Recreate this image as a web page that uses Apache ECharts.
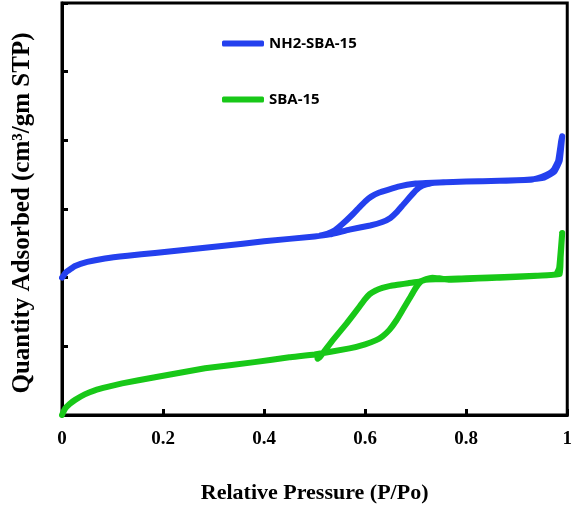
<!DOCTYPE html>
<html>
<head>
<meta charset="utf-8">
<script src="https://cdn.jsdelivr.net/npm/echarts@6/dist/echarts.min.js"></script>
<style>html,body{margin:0;padding:0;background:#fff}#c{width:575px;height:509px}</style>
</head>
<body>
<div id="c"></div>
<script>
const seriesNames = ['NH2-SBA-15', 'SBA-15'];
const xTicks = [0, 0.2, 0.4, 0.6, 0.8, 1];
// NH2-SBA-15: adsorption branch then desorption branch
const nh2Ads = [[0,2.0],[0.008,2.08],[0.026,2.17],[0.05,2.23],[0.085,2.28],[0.13,2.32],[0.184,2.36],[0.25,2.41],[0.316,2.46],[0.4,2.53],[0.5,2.6],[0.53,2.63],[0.569,2.7],[0.61,2.76],[0.634,2.81],[0.65,2.87],[0.662,2.95],[0.675,3.06],[0.688,3.17],[0.7,3.27],[0.713,3.34],[0.733,3.38],[0.8,3.4],[0.866,3.41],[0.931,3.43],[0.95,3.47],[0.965,3.52],[0.974,3.58],[0.982,3.7],[0.988,3.99],[0.99,4.06]];
const nh2Des = [[0.99,4.06],[0.985,3.7],[0.975,3.55],[0.96,3.48],[0.95,3.45],[0.9,3.42],[0.8,3.4],[0.72,3.38],[0.7,3.37],[0.668,3.33],[0.645,3.28],[0.628,3.24],[0.612,3.18],[0.6,3.11],[0.588,3.02],[0.575,2.92],[0.555,2.78],[0.54,2.69],[0.525,2.64],[0.51,2.61]];
// SBA-15: adsorption branch then desorption branch
const sbaAds = [[0,0],[0.006,0.09],[0.015,0.16],[0.026,0.22],[0.045,0.3],[0.065,0.36],[0.09,0.41],[0.119,0.46],[0.184,0.55],[0.283,0.68],[0.381,0.77],[0.45,0.84],[0.5,0.88],[0.569,0.97],[0.6,1.03],[0.622,1.09],[0.635,1.15],[0.648,1.24],[0.662,1.38],[0.675,1.54],[0.688,1.7],[0.7,1.85],[0.71,1.94],[0.721,1.98],[0.733,2.0],[0.747,1.99],[0.767,1.97],[0.866,2.0],[0.95,2.03],[0.978,2.05],[0.984,2.14],[0.99,2.65]];
const sbaDes = [[0.99,2.65],[0.987,2.3],[0.985,2.05],[0.95,2.03],[0.8,1.99],[0.72,1.97],[0.707,1.94],[0.685,1.92],[0.668,1.9],[0.65,1.88],[0.634,1.85],[0.62,1.81],[0.609,1.76],[0.599,1.68],[0.589,1.58],[0.563,1.33],[0.536,1.09],[0.51,0.84],[0.506,0.82]];
const colors = ['#2440ee', '#18c818'];

const chart = echarts.init(document.getElementById('c'));
const serif = '"Liberation Serif", "Times New Roman", serif';
const legendText = {fontFamily: '"Open Sans", "Noto Sans", sans-serif', fontWeight: 'bold', fontSize: 15, color: '#000'};
chart.setOption({
  animation: false,
  grid: {left: 62, right: 7, top: 3, bottom: 94, show: true, borderColor: '#000', borderWidth: 3, backgroundColor: 'transparent'},
  legend: [
    {data: [seriesNames[0]], left: 222, top: 36, padding: 0, itemWidth: 42, itemHeight: 6, icon: 'roundRect', itemGap: 6, textStyle: legendText},
    {data: [seriesNames[1]], left: 222, top: 92, padding: 0, itemWidth: 42, itemHeight: 6, icon: 'roundRect', itemGap: 6, textStyle: legendText}
  ],
  xAxis: {
    type: 'value', min: 0, max: 1, interval: 0.2,
    name: 'Relative Pressure (P/Po)', nameLocation: 'middle', nameGap: 67,
    nameTextStyle: {fontFamily: serif, fontWeight: 'bold', fontSize: 22, color: '#000'},
    axisLine: {lineStyle: {color: '#000', width: 3}},
    axisTick: {inside: true, length: 6, lineStyle: {color: '#000', width: 3}},
    axisLabel: {margin: 15, fontFamily: serif, fontWeight: 'bold', fontSize: 19, color: '#000',
      formatter: v => (xTicks.indexOf(Math.round(v*10)/10) >= 0 ? String(Math.round(v*10)/10) : '')},
    splitLine: {show: false}
  },
  yAxis: {
    type: 'value', min: 0, max: 6, interval: 1,
    name: 'Quantity Adsorbed (cm³/gm STP)', nameLocation: 'middle', nameGap: 27,
    nameTextStyle: {fontFamily: serif, fontWeight: 'bold', fontSize: 25, color: '#000', padding: [0, 8, 0, 0]},
    axisLine: {lineStyle: {color: '#000', width: 3}},
    axisTick: {inside: true, length: 6, lineStyle: {color: '#000', width: 3}},
    axisLabel: {show: false},
    splitLine: {show: false}
  },
  series: [
    {name: seriesNames[0], type: 'line', data: nh2Ads.concat(nh2Des.slice(1)), showSymbol: false, smooth: 0.1,
     color: colors[0], lineStyle: {width: 6, cap: 'round', join: 'round'}},
    {name: seriesNames[1], type: 'line', data: sbaAds.concat(sbaDes.slice(1)), showSymbol: false, smooth: 0.1,
     color: colors[1], lineStyle: {width: 6, cap: 'round', join: 'round'}}
  ]
});
</script>
</body>
</html>
